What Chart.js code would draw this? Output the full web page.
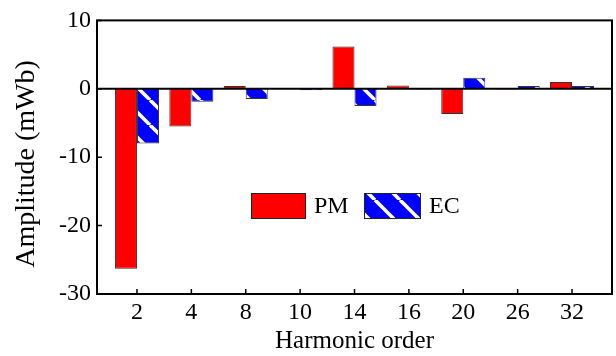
<!DOCTYPE html>
<html>
<head>
<meta charset="utf-8">
<script src="https://cdn.jsdelivr.net/npm/chart.js@4"></script>
<style>
  html, body { margin: 0; padding: 0; background: #fff; }
  #wrap { width: 616px; height: 356px; }
  .probe { position: absolute; left: -999px; font-family: 'Liberation Serif'; }
</style>
</head>
<body>
<span class="probe">PM EC 0123456789 Harmonic order Amplitude (mWb)</span>
<div id="wrap"><canvas id="chart"></canvas></div>
<script>
const HARMONICS = ['2', '4', '8', '10', '14', '16', '20', '26', '32'];
const PM_VALUES = [-26.3, -5.5, 0.4, 0.02, 6.2, 0.5, -3.7, -0.1, 1.0];
const EC_VALUES = [-8.0, -1.9, -1.5, -0.2, -2.5, -0.1, 1.6, 0.4, 0.4];
const Y_TICKS = [10, 0, -10, -20, -30];
const Y_TITLE = 'Amplitude (mWb)';

const FONT = '"Liberation Serif", "DejaVu Serif", serif';
const FSIZE = 24;

function stripePattern() {
  const s = 25;
  const cv = document.createElement('canvas');
  cv.width = s; cv.height = s;
  const g = cv.getContext('2d');
  g.fillStyle = '#0000ff';
  g.fillRect(0, 0, s, s);
  g.strokeStyle = '#ffffff';
  g.lineWidth = 3.6;
  for (const o of [-s, 0, s]) {
    g.beginPath();
    g.moveTo(o, 0);
    g.lineTo(o + s, s);
    g.stroke();
  }
  return g.createPattern(cv, 'repeat');
}

// box, zero line, inward ticks, y title and the in-plot legend
const framePlugin = {
  id: 'frame',
  afterDatasetsDraw(chart) {
    const { ctx, chartArea: a, scales: { x, y } } = chart;
    ctx.save();
    ctx.strokeStyle = '#000';
    ctx.lineWidth = 2;
    ctx.strokeRect(a.left, a.top, a.right - a.left, a.bottom - a.top);

    const y0 = y.getPixelForValue(0);
    ctx.beginPath();
    ctx.moveTo(a.left, y0);
    ctx.lineTo(a.right, y0);
    ctx.stroke();

    ctx.lineWidth = 1.5;
    ctx.beginPath();
    y.ticks.forEach(t => {
      const p = y.getPixelForValue(t.value);
      ctx.moveTo(a.left, p); ctx.lineTo(a.left + 5, p);
    });
    x.ticks.forEach(t => {
      const p = x.getPixelForValue(t.value);
      ctx.moveTo(p, a.bottom); ctx.lineTo(p, a.bottom - 5);
    });
    ctx.stroke();

    // y title (sits a bit below the axis centre in the original)
    ctx.save();
    ctx.translate(27, 164);
    ctx.rotate(-Math.PI / 2);
    ctx.font = '28px ' + FONT;
    ctx.fillStyle = '#000';
    ctx.textAlign = 'center';
    ctx.textBaseline = 'middle';
    ctx.fillText(Y_TITLE, 0, 0);
    ctx.restore();

    // legend
    const items = chart.data.datasets.map(d => ({ label: d.label, fill: d.backgroundColor }));
    const boxes = [{ x: 251, w: 55 }, { x: 364, w: 57 }];
    const top = 193, h = 26;
    ctx.font = FSIZE + 'px ' + FONT;
    ctx.textBaseline = 'middle';
    items.forEach((it, i) => {
      const b = boxes[i];
      ctx.fillStyle = it.fill;
      ctx.fillRect(b.x, top, b.w, h);
      ctx.strokeStyle = '#222';
      ctx.lineWidth = 1;
      ctx.strokeRect(b.x + 0.5, top + 0.5, b.w - 1, h - 1);
      ctx.fillStyle = '#000';
      ctx.fillText(it.label, b.x + b.w + 8, top + h / 2 + 1);
    });
    ctx.restore();
  }
};

function drawChart() {
  const ecFill = stripePattern();
  new Chart(document.getElementById('chart'), {
    type: 'bar',
    data: {
      datasets: [
        {
          label: 'PM',
          data: PM_VALUES.map((v, i) => ({ x: i + 1, y: v })),
          backgroundColor: '#ff0000',
          borderColor: '#333',
          borderWidth: 1
        },
        {
          label: 'EC',
          data: EC_VALUES.map((v, i) => ({ x: i + 1, y: v })),
          backgroundColor: ecFill,
          borderColor: '#333',
          borderWidth: 1
        }
      ]
    },
    options: {
      responsive: true,
      maintainAspectRatio: false,
      animation: false,
      layout: { padding: { top: 18, right: 4, left: 0, bottom: 0 } },
      datasets: { bar: { categoryPercentage: 0.81, barPercentage: 1 } },
      plugins: { legend: { display: false }, tooltip: { enabled: false } },
      scales: {
        x: {
          type: 'linear',
          offset: false,
          min: 0.265,
          max: 9.735,
          afterBuildTicks: axis => { axis.ticks = HARMONICS.map((h, i) => ({ value: i + 1 })); },
          afterFit: axis => { axis.height = 62; },
          grid: { display: false, drawTicks: false },
          border: { display: false },
          ticks: {
            padding: 4,
            color: '#000',
            font: { family: FONT, size: FSIZE },
            callback: v => HARMONICS[v - 1]
          },
          title: {
            display: true,
            text: 'Harmonic order',
            color: '#000',
            font: { family: FONT, size: 25 },
            padding: { top: 0, bottom: 0 }
          }
        },
        y: {
          min: -30,
          max: 10,
          afterBuildTicks: axis => { axis.ticks = Y_TICKS.map(v => ({ value: v })); },
          afterFit: axis => { axis.width = 97; },
          grid: { display: false, drawTicks: false },
          border: { display: false },
          ticks: {
            padding: 6,
            color: '#000',
            font: { family: FONT, size: FSIZE }
          },
          title: { display: false }
        }
      }
    },
    plugins: [framePlugin]
  });
}

document.fonts.load(FSIZE + 'px "Liberation Serif"').then(drawChart, drawChart);
</script>
</body>
</html>
